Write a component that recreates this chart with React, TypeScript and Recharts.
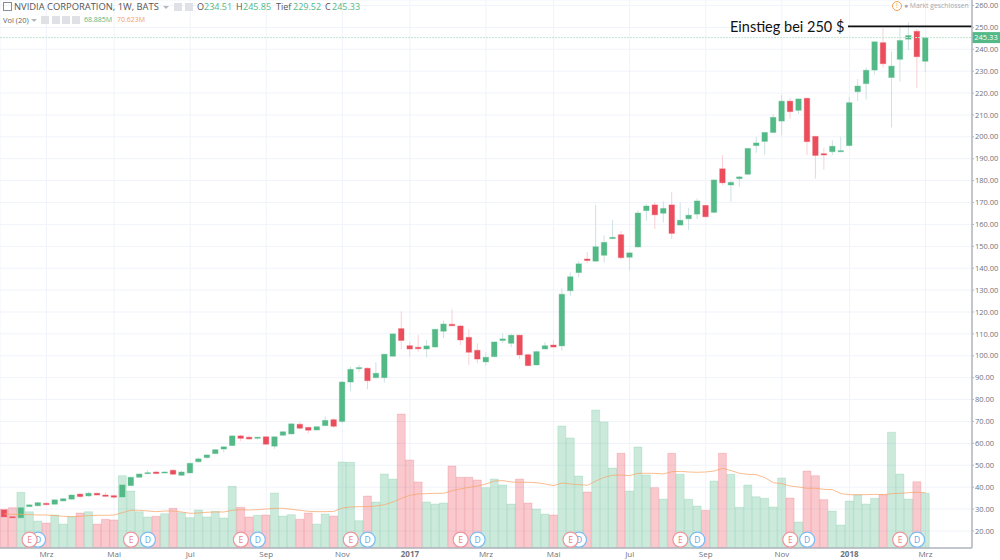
import React from 'react';
import {
    ComposedChart,
    Bar,
    Line,
    Cell,
    XAxis,
    YAxis,
    CartesianGrid,
    ReferenceLine,
    ReferenceDot,
} from 'recharts';

const UP = '#53B987';
const DOWN = '#EB4D5C';
const AVG = '#F7A66B';
const AXIS_TEXT = '#6f737d';
const GRID = '#f0f3fa';
const FONT = '"Open Sans", sans-serif';

// weekly candles
const opens = [
    29.6, 26.5, 26.0, 31.1, 31.5, 32.6, 32.2, 33.7, 34.5, 36.8, 36.0, 37.2, 36.4, 36.1, 35.5, 40.7, 44.5, 46.3, 46.9, 46.5,
    47.7, 45.4, 46.5, 51.6, 53.5, 55.3, 57.4, 59.0, 63.4, 62.8, 62.3, 63.0, 58.7, 63.7, 64.3, 68.7, 67.3, 66.1, 68.1, 70.8,
    70.0, 88.0, 94.1, 94.3, 90.0, 90.0, 99.8, 112.4, 104.6, 103.9, 103.1, 104.0, 111.2, 114.4, 113.6, 108.4, 102.5, 97.2, 99.6, 107.0,
    105.7, 109.4, 100.5, 95.8, 103.1, 104.9, 104.5, 129.7, 138.0, 144.2, 143.2, 145.9, 153.5, 155.3, 145.0, 149.7, 166.3, 168.9, 165.1, 168.9,
    159.7, 162.6, 164.7, 168.7, 165.5, 185.4, 178.0, 180.9, 182.9, 196.0, 197.9, 202.0, 207.2, 216.3, 212.1, 217.6, 200.2, 192.3, 193.2, 193.2,
    196.0, 220.6, 224.3, 230.5, 243.0, 227.1, 235.4, 244.6, 248.2, 234.51,
];
const closes = [
    26.4, 26.0, 30.6, 31.9, 32.9, 32.0, 34.2, 34.7, 36.4, 35.7, 37.2, 36.4, 35.8, 35.4, 41.0, 44.5, 46.0, 46.6, 46.2, 46.9,
    45.9, 46.9, 50.9, 52.9, 54.7, 57.1, 58.4, 63.4, 62.3, 62.0, 62.8, 59.6, 63.0, 65.3, 68.9, 66.9, 66.0, 67.6, 70.5, 67.8,
    88.0, 93.8, 94.6, 88.6, 92.0, 100.7, 110.0, 107.0, 103.1, 103.2, 104.5, 112.1, 114.5, 113.7, 107.2, 101.6, 98.5, 99.3, 106.3, 107.7,
    109.4, 100.4, 95.5, 101.9, 104.6, 104.0, 128.1, 136.1, 142.0, 143.5, 149.8, 151.8, 154.1, 144.8, 147.0, 165.2, 168.4, 164.4, 167.3, 155.9,
    161.9, 164.2, 170.7, 163.5, 180.3, 179.0, 179.2, 181.7, 194.7, 197.2, 202.0, 208.9, 216.3, 211.5, 217.3, 197.8, 191.5, 191.7, 195.7, 193.7,
    215.6, 223.2, 230.4, 243.4, 233.4, 232.3, 244.0, 246.3, 236.6, 245.33,
];
const lows = [
    26.2, 25.5, 26.0, 31.0, 31.2, 31.8, 32.0, 33.5, 34.3, 35.0, 35.6, 36.2, 35.6, 34.8, 35.3, 40.5, 44.3, 46.1, 45.9, 46.3,
    45.4, 45.1, 46.3, 51.2, 53.0, 55.2, 55.8, 58.8, 61.0, 61.7, 61.8, 59.4, 57.5, 63.2, 64.0, 66.4, 64.4, 65.9, 67.9, 67.0,
    69.2, 83.9, 92.7, 84.7, 89.7, 87.7, 99.6, 103.0, 99.6, 101.9, 99.3, 103.7, 108.1, 113.6, 104.9, 95.8, 96.6, 95.3, 99.3, 105.7,
    103.9, 98.5, 95.3, 95.6, 103.0, 103.7, 102.3, 127.4, 135.8, 142.2, 142.8, 142.5, 153.3, 144.0, 138.9, 149.3, 161.7, 157.9, 160.8, 153.3,
    159.5, 157.4, 162.6, 163.2, 165.2, 177.9, 170.4, 177.2, 182.7, 192.7, 191.7, 201.8, 200.7, 208.3, 210.4, 191.7, 180.9, 185.0, 191.7, 193.0,
    195.5, 216.3, 217.0, 228.5, 231.6, 204.3, 225.2, 239.6, 222.3, 229.52,
];
const highs = [
    30.0, 27.0, 30.8, 32.2, 33.2, 33.0, 34.4, 35.0, 36.6, 37.4, 37.8, 37.4, 37.6, 36.6, 41.2, 44.7, 46.2, 47.8, 47.6, 47.4,
    48.2, 47.6, 51.1, 53.6, 55.0, 57.3, 58.7, 63.6, 63.9, 63.6, 63.1, 63.2, 63.2, 65.5, 69.2, 69.8, 67.5, 67.8, 72.3, 71.6,
    88.5, 95.0, 95.8, 94.7, 97.0, 100.9, 110.2, 120.3, 106.4, 109.5, 107.2, 112.3, 116.0, 121.2, 114.1, 112.1, 105.7, 101.6, 106.5, 110.3,
    110.0, 109.6, 101.0, 102.1, 106.2, 107.2, 130.8, 138.1, 143.3, 147.4, 168.9, 155.0, 162.0, 157.0, 147.5, 166.5, 169.3, 170.1, 170.5, 174.8,
    169.9, 167.5, 171.9, 168.9, 180.5, 191.6, 180.0, 182.1, 194.9, 200.0, 202.2, 210.5, 219.1, 217.6, 217.5, 217.8, 200.4, 195.0, 198.4, 200.0,
    218.3, 226.4, 231.6, 243.6, 249.7, 239.0, 250.3, 252.3, 249.2, 245.85,
];
// weekly volume in millions and its 20 week average
const volumes = [
    48.8, 50.8, 70.2, 45.7, 34.0, 31.5, 41.6, 30.2, 39.4, 44.1, 45.7, 30.2, 36.2, 35.3, 91.1, 71.8, 45.7, 39.1, 39.9, 43.2,
    50.0, 44.5, 38.2, 47.9, 39.1, 46.2, 37.8, 77.7, 51.3, 39.1, 41.2, 41.6, 69.3, 40.3, 42.0, 36.2, 44.1, 30.2, 42.8, 40.3,
    108.4, 108.0, 34.4, 65.5, 58.0, 93.2, 86.9, 168.8, 110.9, 83.2, 58.0, 55.4, 56.7, 103.3, 89.1, 89.1, 85.7, 76.0, 86.9, 79.4,
    55.4, 86.9, 56.7, 49.1, 42.8, 41.6, 153.7, 138.6, 90.7, 70.6, 173.9, 158.8, 100.8, 119.3, 71.8, 127.3, 92.0, 76.0, 61.7, 119.3,
    92.9, 61.4, 52.9, 47.5, 84.4, 119.3, 92.9, 51.3, 79.4, 64.6, 62.6, 51.7, 88.2, 63.0, 32.8, 97.0, 91.1, 60.9, 46.6, 29.0,
    59.2, 66.8, 55.4, 62.6, 67.2, 145.8, 93.2, 61.7, 83.5, 68.9,
];
const volumeAvg = [
    42.9, 42.4, 42.4, 42.0, 41.6, 41.6, 40.8, 39.9, 39.5, 39.9, 40.8, 41.2, 41.2, 41.6, 44.5, 47.5, 47.5, 46.6, 45.8, 46.6,
    46.6, 45.4, 43.7, 44.1, 45.0, 45.4, 45.4, 47.5, 48.3, 47.9, 48.3, 49.2, 50.0, 50.0, 48.7, 47.5, 46.2, 45.8, 45.8, 46.2,
    50.4, 51.7, 52.1, 52.1, 52.9, 54.6, 58.0, 62.6, 66.4, 68.1, 68.5, 68.9, 68.9, 72.3, 74.4, 76.5, 78.1, 80.7, 84.4, 84.9,
    83.2, 82.8, 82.8, 82.3, 80.7, 78.6, 81.9, 80.7, 79.8, 79.0, 84.4, 89.1, 91.6, 92.0, 91.2, 94.1, 94.1, 94.1, 93.3, 96.2,
    96.6, 95.8, 95.4, 95.8, 97.0, 100.4, 97.5, 94.1, 92.8, 92.4, 88.6, 82.3, 81.1, 78.1, 76.9, 75.2, 75.2, 73.9, 73.5, 68.5,
    67.2, 67.2, 67.2, 67.6, 67.2, 68.5, 68.9, 69.7, 70.2, 69.7,
];

const priceTicks = [20, 30, 40, 50, 60, 70, 80, 90, 100, 110, 120, 130, 140, 150, 160, 170, 180, 190, 200, 210, 220, 230, 240, 250, 260];
const timeTickIndex = [5, 13, 22, 31, 40, 48, 57, 65, 74, 83, 92, 100, 109];
const timeTickLabels = ['Mrz', 'Mai', 'Jul', 'Sep', 'Nov', '2017', 'Mrz', 'Mai', 'Jul', 'Sep', 'Nov', '2018', 'Mrz'];
const earningsWeeks = [3, 15, 28, 41, 54, 67, 80, 93, 106];
const dividendWeeks = [4, 17, 30, 43, 56, 68, 82, 95, 108];

const EMPTY_WEEKS = 5; // room on the right of the last candle
const MARKER_PRICE = 16;

const rows = Array.from({ length: opens.length + EMPTY_WEEKS }, (_, i) => ({
    idx: i,
    open: opens[i],
    close: closes[i],
    low: lows[i],
    high: highs[i],
    volume: volumes[i],
    avg: volumeAvg[i],
}));

// eslint-disable-next-line @typescript-eslint/no-explicit-any
const Candle = ({ x, y, width, height, payload }: any) => {
    if (payload.open === undefined) return null;
    const { open, close, low, high } = payload;
    const rising = close >= open;
    const k = height / (high - low);
    const cx = x + width / 2;
    const top = y + (high - Math.max(open, close)) * k;
    const bodyHeight = Math.max(Math.abs(open - close) * k, 1);
    return (
        <g>
            <line x1={cx} x2={cx} y1={y} y2={y + height} stroke={rising ? '#cfe0e4' : '#f9cfd5'} strokeWidth={1} />
            <rect
                x={cx - 2.75}
                y={top}
                width={5.5}
                height={bodyHeight}
                fill={rising ? UP : DOWN}
                stroke={rising ? UP : DOWN}
                strokeOpacity={0.35}
                strokeWidth={1}
            />
        </g>
    );
};

// eslint-disable-next-line @typescript-eslint/no-explicit-any
const TimeTick = ({ x, payload }: any) => {
    const label = timeTickLabels[timeTickIndex.indexOf(payload.value)];
    const year = label.startsWith('20');
    return (
        <text x={x} y={557} textAnchor="middle" fontSize={8} fontFamily={FONT} fontWeight={year ? 700 : 400} fill={AXIS_TEXT}>
            {label}
        </text>
    );
};

// eslint-disable-next-line @typescript-eslint/no-explicit-any
const PriceTag = ({ x1, x2, y1 }: any) => {
    const right = Math.max(x1, x2);
    return (
        <g>
            <line x1={Math.min(x1, x2)} x2={right} y1={y1} y2={y1} stroke="#c4e6d4" strokeDasharray="2 1" />
            <rect x={right} y={y1 - 5.5} width={28} height={11} fill={UP} />
            <text x={right + 14} y={y1 + 2.8} textAnchor="middle" fontSize={7.5} fontFamily={FONT} fill="#fff">
                245.33
            </text>
        </g>
    );
};

// eslint-disable-next-line @typescript-eslint/no-explicit-any
const EntryLine = ({ x1, x2, y1 }: any) => (
    <g>
        <line x1={848} x2={Math.max(x1, x2)} y1={y1 - 1} y2={y1 - 1} stroke="#111" strokeWidth={1.6} />
        <text x={730} y={y1 + 4.5} fontSize={14.5} fontFamily="Lato, sans-serif" fill="#111">
            Einstieg bei 250 $
        </text>
    </g>
);

// eslint-disable-next-line @typescript-eslint/no-explicit-any
const Marker = ({ cx, cy, letter, color, ring }: any) => (
    <g>
        <circle cx={cx} cy={cy} r={7.5} fill="#fff" stroke={ring} strokeWidth={1.2} />
        <text x={cx} y={cy + 3} textAnchor="middle" fontSize={8.5} fontFamily={FONT} fill={color}>
            {letter}
        </text>
    </g>
);

const IconBox = ({ left, top }: { left: number; top: number }) => (
    <span style={{ position: 'absolute', left, top, width: 8, height: 8, background: '#dfe1e6' }} />
);

const Caret = ({ left, top }: { left: number; top: number }) => (
    <span
        style={{
            position: 'absolute',
            left,
            top,
            width: 0,
            height: 0,
            borderLeft: '3px solid transparent',
            borderRight: '3px solid transparent',
            borderTop: '3px solid #b4b7bf',
        }}
    />
);

const Label = ({ left, top, size, color, children }: { left: number; top: number; size: number; color: string; children: React.ReactNode }) => (
    <span style={{ position: 'absolute', left, top, fontSize: size, lineHeight: '12px', color, whiteSpace: 'nowrap' }}>{children}</span>
);

const Header = () => (
    <div style={{ position: 'absolute', left: 0, top: 0, width: 1000, height: 30, fontFamily: FONT }}>
        <span style={{ position: 'absolute', left: 3, top: 2, width: 7, height: 7, border: '1px solid #8a8d96' }} />
        <Label left={14} top={1} size={9.4} color="#555">NVIDIA CORPORATION, 1W, BATS</Label>
        <Caret left={163} top={6} />
        <IconBox left={174} top={3} />
        <IconBox left={185} top={3} />
        <Label left={197} top={1} size={9} color="#555">O</Label>
        <Label left={204} top={1} size={9} color={UP}>234.51</Label>
        <Label left={236} top={1} size={9} color="#555">H</Label>
        <Label left={243} top={1} size={9} color={UP}>245.85</Label>
        <Label left={276} top={1} size={9} color="#555">Tief</Label>
        <Label left={293} top={1} size={9} color={UP}>229.52</Label>
        <Label left={325} top={1} size={9} color="#555">C</Label>
        <Label left={332} top={1} size={9} color={UP}>245.33</Label>
        <Label left={3} top={14} size={7.5} color="#666">Vol (20)</Label>
        <Caret left={31} top={19} />
        <IconBox left={41} top={16} />
        <IconBox left={52} top={16} />
        <IconBox left={62} top={16} />
        <IconBox left={72} top={16} />
        <Label left={84} top={14} size={7} color={UP}>68.885M</Label>
        <Label left={117} top={14} size={7} color="#f5a25a">70.623M</Label>
        <span
            style={{
                position: 'absolute',
                left: 892,
                top: 1,
                width: 8,
                height: 8,
                border: '1px solid #f5a25a',
                borderRadius: '50%',
                color: '#f5a25a',
                fontSize: 7,
                lineHeight: '8px',
                textAlign: 'center',
            }}
        >
            !
        </span>
        <Label left={904} top={0} size={6.8} color="#a5a8b0">● Markt geschlossen</Label>
    </div>
);

export default function App() {
    return (
        <div style={{ position: 'absolute', left: 0, top: 0, width: 1000, height: 560, background: '#fff' }}>
            <ComposedChart
                width={1000}
                height={560}
                data={rows}
                margin={{ top: 0, right: 0, bottom: 0, left: 0 }}
                barCategoryGap={0}
                barGap={0}
            >
                <CartesianGrid xAxisId="price" yAxisId="price" stroke={GRID} strokeWidth={1} />
                <XAxis
                    xAxisId="price"
                    dataKey="idx"
                    type="category"
                    ticks={timeTickIndex}
                    interval={0}
                    height={12}
                    tick={<TimeTick />}
                    tickLine={false}
                    axisLine={{ stroke: '#b2b5be', strokeWidth: 1.5 }}
                />
                <XAxis xAxisId="vol" dataKey="idx" type="category" hide />
                <YAxis
                    yAxisId="price"
                    orientation="right"
                    width={28}
                    domain={[12.2, 262.5]}
                    ticks={priceTicks}
                    interval={0}
                    tickFormatter={(v: number) => v.toFixed(2)}
                    tick={{ fill: AXIS_TEXT, fontSize: 7.5, fontFamily: FONT }}
                    tickSize={2}
                    tickMargin={1}
                    tickLine={{ stroke: '#b2b5be' }}
                    axisLine={{ stroke: '#b2b5be', strokeWidth: 1.5 }}
                />
                <YAxis yAxisId="vol" hide domain={[0, 690.5]} />

                <Bar xAxisId="vol" yAxisId="vol" dataKey="volume" isAnimationActive={false} strokeWidth={1}>
                    {rows.map((r) => (
                        <Cell
                            key={r.idx}
                            fill={r.close >= r.open ? UP : DOWN}
                            fillOpacity={0.3}
                            stroke={r.close >= r.open ? UP : DOWN}
                            strokeOpacity={0.2}
                        />
                    ))}
                </Bar>
                <Line
                    xAxisId="vol"
                    yAxisId="vol"
                    dataKey="avg"
                    stroke={AVG}
                    strokeOpacity={0.75}
                    strokeWidth={1}
                    dot={false}
                    isAnimationActive={false}
                />
                <Bar
                    xAxisId="price"
                    yAxisId="price"
                    dataKey={(d: { low?: number; high?: number }) => (d.low === undefined ? null : [d.low, d.high])}
                    shape={<Candle />}
                    isAnimationActive={false}
                />

                <ReferenceLine xAxisId="price" yAxisId="price" y={245.33} shape={<PriceTag />} />
                <ReferenceLine xAxisId="price" yAxisId="price" y={250} shape={<EntryLine />} />
                {dividendWeeks.map((w) => (
                    <ReferenceDot
                        key={`d${w}`}
                        xAxisId="price"
                        yAxisId="price"
                        x={w}
                        y={MARKER_PRICE}
                        shape={<Marker letter="D" color="#5aa9ee" ring="#7cbcf2" />}
                    />
                ))}
                {earningsWeeks.map((w) => (
                    <ReferenceDot
                        key={`e${w}`}
                        xAxisId="price"
                        yAxisId="price"
                        x={w}
                        y={MARKER_PRICE}
                        shape={<Marker letter="E" color="#ea7f88" ring="#ee959d" />}
                    />
                ))}
            </ComposedChart>
            <Header />
        </div>
    );
}
